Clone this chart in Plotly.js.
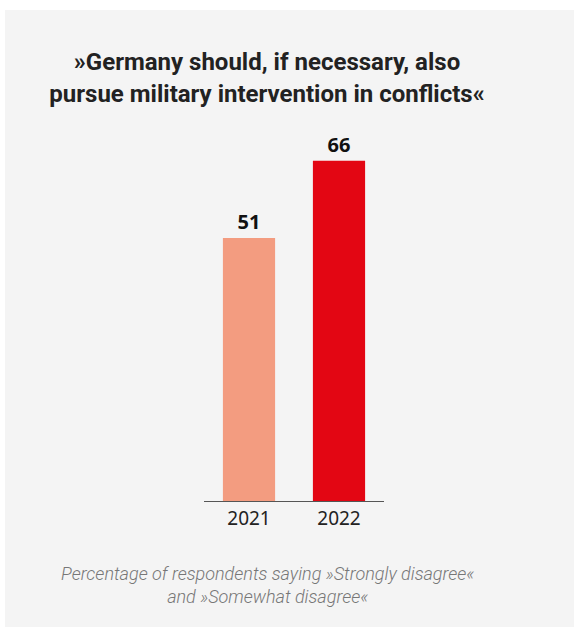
<!DOCTYPE html>
<html>
<head>
<meta charset="utf-8">
<script src="https://cdn.plot.ly/plotly-3.0.1.min.js"></script>
<style>
  html, body { margin: 0; padding: 0; background: #ffffff; }
  #panel { position: absolute; left: 5px; top: 10px; width: 569px; height: 617px; background: #f4f4f4; }
  #chart { width: 569px; height: 617px; }
</style>
</head>
<body>
<div id="panel"><div id="chart"></div></div>
<script>
const years = ['2021', '2022'];
const values = [51, 66];
const barColors = ['#F39C80', '#E30613'];
const titleText = '»Germany should, if necessary, also<br>pursue military intervention in conflicts«';
const captionText = 'Percentage of respondents saying »Strongly disagree«<br>and »Somewhat disagree«';

const trace = {
  type: 'bar',
  x: years,
  y: values,
  width: 0.58,
  marker: { color: barColors, line: { width: 0 } },
  text: values.map(String),
  textposition: 'outside',
  cliponaxis: false,
  textfont: { family: 'Open Sans', size: 20, weight: 700, color: '#111111' },
  hoverinfo: 'none'
};

const layout = {
  width: 569,
  height: 617,
  margin: { l: 199, r: 190, t: 130, b: 126 },
  paper_bgcolor: '#f4f4f4',
  plot_bgcolor: '#f4f4f4',
  showlegend: false,
  title: {
    text: titleText,
    font: { family: 'Roboto', size: 24, weight: 700, color: '#222222' },
    x: 0.4605, xanchor: 'center', xref: 'container',
    y: 0.902, yanchor: 'top', yref: 'container'
  },
  xaxis: {
    type: 'category',
    range: [-0.5, 1.5],
    showline: true,
    linecolor: '#555555',
    linewidth: 1.3,
    ticks: '',
    showgrid: false,
    zeroline: false,
    tickfont: { family: 'Noto Sans', size: 19, color: '#222222' }
  },
  yaxis: {
    range: [0, 70],
    visible: false,
    showgrid: false,
    zeroline: false
  },
  annotations: [
    { text: captionText, xref: 'paper', yref: 'paper', x: 0.35, y: -0.232, xanchor: 'center', yanchor: 'middle', showarrow: false,
      align: 'center',
      font: { family: 'Roboto', size: 18, weight: 300, style: 'italic', color: '#777777' } }
  ]
};

Plotly.newPlot('chart', [trace], layout, { displayModeBar: false, staticPlot: true });
</script>
</body>
</html>
